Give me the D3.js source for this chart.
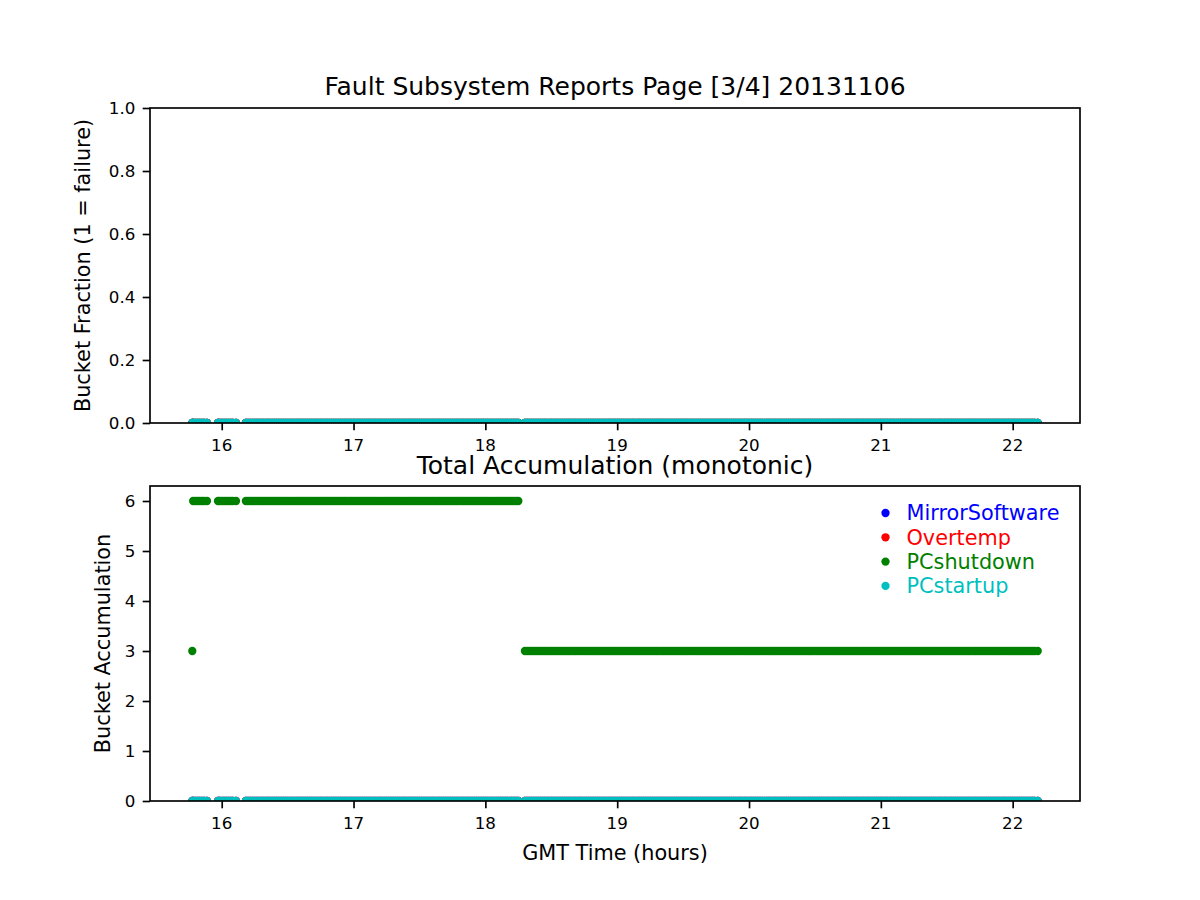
<!DOCTYPE html>
<html>
<head>
<meta charset="utf-8">
<script src="https://cdn.jsdelivr.net/npm/d3@7"></script>
<style>
  html, body { margin: 0; padding: 0; background: #ffffff; }
  svg { display: block; font-family: "DejaVu Sans", sans-serif; }
  text.ticklabel { font-size: 16.7px; }
</style>
</head>
<body>
<script>
// ---------------- DATA ----------------
// Sample times (minutes after 00:00 GMT)
const sampleMinutes = [
  946.6,
  947, 948, 949, 950, 951, 952, 953.3,
  958.3, 959, 960, 961, 962, 963, 964, 965, 966.5,
  971, 972, 973, 974, 975, 976, 977, 978, 979, 980,
  981, 982, 983, 984, 985, 986, 987, 988, 989, 990,
  991, 992, 993, 994, 995, 996, 997, 998, 999, 1000,
  1001, 1002, 1003, 1004, 1005, 1006, 1007, 1008, 1009, 1010,
  1011, 1012, 1013, 1014, 1015, 1016, 1017, 1018, 1019, 1020,
  1021, 1022, 1023, 1024, 1025, 1026, 1027, 1028, 1029, 1030,
  1031, 1032, 1033, 1034, 1035, 1036, 1037, 1038, 1039, 1040,
  1041, 1042, 1043, 1044, 1045, 1046, 1047, 1048, 1049, 1050,
  1051, 1052, 1053, 1054, 1055, 1056, 1057, 1058, 1059, 1060,
  1061, 1062, 1063, 1064, 1065, 1066, 1067, 1068, 1069, 1070,
  1071, 1072, 1073, 1074, 1075, 1076, 1077, 1078, 1079, 1080,
  1081, 1082, 1083, 1084, 1085, 1086, 1087, 1088, 1089, 1090,
  1091, 1092, 1093, 1094, 1095,
  1098, 1099, 1100, 1101, 1102, 1103, 1104, 1105, 1106, 1107,
  1108, 1109, 1110, 1111, 1112, 1113, 1114, 1115, 1116, 1117,
  1118, 1119, 1120, 1121, 1122, 1123, 1124, 1125, 1126, 1127,
  1128, 1129, 1130, 1131, 1132, 1133, 1134, 1135, 1136, 1137,
  1138, 1139, 1140, 1141, 1142, 1143, 1144, 1145, 1146, 1147,
  1148, 1149, 1150, 1151, 1152, 1153, 1154, 1155, 1156, 1157,
  1158, 1159, 1160, 1161, 1162, 1163, 1164, 1165, 1166, 1167,
  1168, 1169, 1170, 1171, 1172, 1173, 1174, 1175, 1176, 1177,
  1178, 1179, 1180, 1181, 1182, 1183, 1184, 1185, 1186, 1187,
  1188, 1189, 1190, 1191, 1192, 1193, 1194, 1195, 1196, 1197,
  1198, 1199, 1200, 1201, 1202, 1203, 1204, 1205, 1206, 1207,
  1208, 1209, 1210, 1211, 1212, 1213, 1214, 1215, 1216, 1217,
  1218, 1219, 1220, 1221, 1222, 1223, 1224, 1225, 1226, 1227,
  1228, 1229, 1230, 1231, 1232, 1233, 1234, 1235, 1236, 1237,
  1238, 1239, 1240, 1241, 1242, 1243, 1244, 1245, 1246, 1247,
  1248, 1249, 1250, 1251, 1252, 1253, 1254, 1255, 1256, 1257,
  1258, 1259, 1260, 1261, 1262, 1263, 1264, 1265, 1266, 1267,
  1268, 1269, 1270, 1271, 1272, 1273, 1274, 1275, 1276, 1277,
  1278, 1279, 1280, 1281, 1282, 1283, 1284, 1285, 1286, 1287,
  1288, 1289, 1290, 1291, 1292, 1293, 1294, 1295, 1296, 1297,
  1298, 1299, 1300, 1301, 1302, 1303, 1304, 1305, 1306, 1307,
  1308, 1309, 1310, 1311, 1312, 1313, 1314, 1315, 1316, 1317,
  1318, 1319, 1320, 1321, 1322, 1323, 1324, 1325, 1326, 1327,
  1328, 1329, 1330, 1331.4
];

// All-zero readings (376 samples)
const zeroReadings = [
  0,0,0,0,0, 0,0,0,0,0, 0,0,0,0,0, 0,0,0,0,0,
  0,0,0,0,0, 0,0,0,0,0, 0,0,0,0,0, 0,0,0,0,0,
  0,0,0,0,0, 0,0,0,0,0, 0,0,0,0,0, 0,0,0,0,0,
  0,0,0,0,0, 0,0,0,0,0, 0,0,0,0,0, 0,0,0,0,0,
  0,0,0,0,0, 0,0,0,0,0, 0,0,0,0,0, 0,0,0,0,0,
  0,0,0,0,0, 0,0,0,0,0, 0,0,0,0,0, 0,0,0,0,0,
  0,0,0,0,0, 0,0,0,0,0, 0,0,0,0,0, 0,0,0,0,0,
  0,0,0,0,0, 0,0,0,0,0, 0,0,0,0,0, 0,0,0,0,0,
  0,0,0,0,0, 0,0,0,0,0, 0,0,0,0,0, 0,0,0,0,0,
  0,0,0,0,0, 0,0,0,0,0, 0,0,0,0,0, 0,0,0,0,0,
  0,0,0,0,0, 0,0,0,0,0, 0,0,0,0,0, 0,0,0,0,0,
  0,0,0,0,0, 0,0,0,0,0, 0,0,0,0,0, 0,0,0,0,0,
  0,0,0,0,0, 0,0,0,0,0, 0,0,0,0,0, 0,0,0,0,0,
  0,0,0,0,0, 0,0,0,0,0, 0,0,0,0,0, 0,0,0,0,0,
  0,0,0,0,0, 0,0,0,0,0, 0,0,0,0,0, 0,0,0,0,0,
  0,0,0,0,0, 0,0,0,0,0, 0,0,0,0,0, 0,0,0,0,0,
  0,0,0,0,0, 0,0,0,0,0, 0,0,0,0,0, 0,0,0,0,0,
  0,0,0,0,0, 0,0,0,0,0, 0,0,0,0,0, 0,0,0,0,0,
  0,0,0,0,0, 0,0,0,0,0, 0,0,0,0,0, 0
];

// Bucket fraction (top panel)
const mirrorSoftwareFraction = zeroReadings;
const overtempFraction       = zeroReadings;
const pcShutdownFraction     = zeroReadings;
const pcStartupFraction      = zeroReadings;

// Bucket accumulation (bottom panel)
const mirrorSoftwareAccum = zeroReadings;
const overtempAccum       = zeroReadings;
const pcStartupAccum      = zeroReadings;
const pcShutdownAccum = [
  3,6,6,6,6, 6,6,6,6,6, 6,6,6,6,6, 6,6,6,6,6,
  6,6,6,6,6, 6,6,6,6,6, 6,6,6,6,6, 6,6,6,6,6,
  6,6,6,6,6, 6,6,6,6,6, 6,6,6,6,6, 6,6,6,6,6,
  6,6,6,6,6, 6,6,6,6,6, 6,6,6,6,6, 6,6,6,6,6,
  6,6,6,6,6, 6,6,6,6,6, 6,6,6,6,6, 6,6,6,6,6,
  6,6,6,6,6, 6,6,6,6,6, 6,6,6,6,6, 6,6,6,6,6,
  6,6,6,6,6, 6,6,6,6,6, 6,6,6,6,6, 6,6,6,6,6,
  6,6,3,3,3, 3,3,3,3,3, 3,3,3,3,3, 3,3,3,3,3,
  3,3,3,3,3, 3,3,3,3,3, 3,3,3,3,3, 3,3,3,3,3,
  3,3,3,3,3, 3,3,3,3,3, 3,3,3,3,3, 3,3,3,3,3,
  3,3,3,3,3, 3,3,3,3,3, 3,3,3,3,3, 3,3,3,3,3,
  3,3,3,3,3, 3,3,3,3,3, 3,3,3,3,3, 3,3,3,3,3,
  3,3,3,3,3, 3,3,3,3,3, 3,3,3,3,3, 3,3,3,3,3,
  3,3,3,3,3, 3,3,3,3,3, 3,3,3,3,3, 3,3,3,3,3,
  3,3,3,3,3, 3,3,3,3,3, 3,3,3,3,3, 3,3,3,3,3,
  3,3,3,3,3, 3,3,3,3,3, 3,3,3,3,3, 3,3,3,3,3,
  3,3,3,3,3, 3,3,3,3,3, 3,3,3,3,3, 3,3,3,3,3,
  3,3,3,3,3, 3,3,3,3,3, 3,3,3,3,3, 3,3,3,3,3,
  3,3,3,3,3, 3,3,3,3,3, 3,3,3,3,3, 3
];

const seriesNames  = ["MirrorSoftware", "Overtemp", "PCshutdown", "PCstartup"];
const seriesColors = ["#0000ff", "#ff0000", "#008000", "#00bfbf"];

const xTicks = [16, 17, 18, 19, 20, 21, 22];
const fractionTicks = [0, 0.2, 0.4, 0.6, 0.8, 1.0];
const accumTicks = [0, 1, 2, 3, 4, 5, 6];

const topTitle = "Fault Subsystem Reports Page [3/4] 20131106";
const bottomTitle = "Total Accumulation (monotonic)";
const topYLabel = "Bucket Fraction (1 = failure)";
const bottomYLabel = "Bucket Accumulation";
const xLabel = "GMT Time (hours)";

// ---------------- LAYOUT ----------------
const W = 1200, H = 900;
const axLeft = 150, axRight = 1080;
const tickLen = 7.3, tickPad = 7.3, lw = 1.67;
const dotR = 4.15;

const svg = d3.select("body").append("svg")
  .attr("width", W).attr("height", H)
  .attr("font-family", "DejaVu Sans, sans-serif");
svg.append("rect").attr("width", W).attr("height", H).attr("fill", "#fff");

const hours = sampleMinutes.map(m => m / 60);
const ext = d3.extent(hours);
const padX = (ext[1] - ext[0]) * 0.05;
const x = d3.scaleLinear().domain([ext[0] - padX, ext[1] + padX]).range([axLeft, axRight]);

const tickLabelNodes = [];

function drawPanel(cfg) {
  const { top, bottom, yDomain, yTicks, yFmt, series, title, titleBaseline, yLabel, yLabelX, id } = cfg;
  const y = d3.scaleLinear().domain(yDomain).range([bottom, top]);
  const g = svg.append("g");

  g.append("clipPath").attr("id", id)
    .append("rect").attr("x", axLeft).attr("y", top)
    .attr("width", axRight - axLeft).attr("height", bottom - top);

  const plot = g.append("g").attr("clip-path", `url(#${id})`);
  series.forEach((vals, si) => {
    const pts = vals.map((v, i) => ({ t: hours[i], v })).filter(d => d.t !== undefined);
    plot.append("g").attr("fill", seriesColors[si])
      .selectAll("circle")
      .data(pts)
      .join("circle")
      .attr("cx", d => x(d.t))
      .attr("cy", d => y(d.v))
      .attr("r", dotR);
  });

  const xAxis = d3.axisBottom(x).tickValues(xTicks).tickFormat("")
    .tickSizeInner(tickLen).tickSizeOuter(0);
  const gx = g.append("g").attr("transform", `translate(0,${bottom})`).call(xAxis);
  const yAxis = d3.axisLeft(y).tickValues(yTicks).tickFormat("")
    .tickSizeInner(tickLen).tickSizeOuter(0);
  const gy = g.append("g").attr("transform", `translate(${axLeft},0)`).call(yAxis);
  [gx, gy].forEach(a => {
    a.select(".domain").remove();
    a.selectAll(".tick line").attr("stroke", "#000").attr("stroke-width", lw);
    a.selectAll(".tick text").remove();
  });

  const xl = g.append("g").attr("font-size", 16.7).selectAll("text").data(xTicks).join("text")
    .attr("class", "ticklabel")
    .attr("x", d => x(d)).attr("y", bottom + 28)
    .attr("text-anchor", "middle")
    .attr("font-size", 16.7).style("font-size", "16.7px")
    .attr("fill", "#000").text(d3.format("d"));

  const yl = g.append("g").attr("font-size", 16.7).selectAll("text").data(yTicks).join("text")
    .attr("class", "ticklabel")
    .attr("x", axLeft - tickLen - tickPad).attr("y", d => y(d)).attr("dy", "0.36em")
    .attr("text-anchor", "end")
    .attr("font-size", 16.7).style("font-size", "16.7px")
    .attr("fill", "#000").text(yFmt);
  yl.each(function () { tickLabelNodes.push(this); });
  xl.each(function () { tickLabelNodes.push(this); });

  g.append("rect").attr("x", axLeft).attr("y", top)
    .attr("width", axRight - axLeft).attr("height", bottom - top)
    .attr("fill", "none").attr("stroke", "#000").attr("stroke-width", lw);

  g.append("text").attr("x", (axLeft + axRight) / 2).attr("y", titleBaseline)
    .attr("text-anchor", "middle").style("font-size", "25px").attr("fill", "#000")
    .text(title);

  g.append("text")
    .attr("transform", `translate(${yLabelX},${(top + bottom) / 2}) rotate(-90)`)
    .attr("text-anchor", "middle").style("font-size", "20.8px").attr("fill", "#000")
    .text(yLabel);
}

drawPanel({
  top: 108, bottom: 423, yDomain: [0, 1], yTicks: fractionTicks, yFmt: d3.format(".1f"),
  series: [mirrorSoftwareFraction, overtempFraction, pcShutdownFraction, pcStartupFraction],
  title: topTitle, titleBaseline: 95, yLabel: topYLabel, yLabelX: 90, id: "clipTop"
});

drawPanel({
  top: 486, bottom: 801, yDomain: [0, 6.3], yTicks: accumTicks, yFmt: d3.format("d"),
  series: [mirrorSoftwareAccum, overtempAccum, pcShutdownAccum, pcStartupAccum],
  title: bottomTitle, titleBaseline: 474, yLabel: bottomYLabel, yLabelX: 110, id: "clipBottom"
});

// resolve tick label layout, then add the remaining texts
tickLabelNodes.forEach(n => n.getBBox());

// legend (upper right of bottom panel, no frame)
const legend = svg.append("g");
seriesNames.forEach((name, i) => {
  const cy = 513 + i * 24.3;
  legend.append("circle").attr("cx", 885.5).attr("cy", cy).attr("r", dotR)
    .attr("fill", seriesColors[i]);
  legend.append("text").attr("x", 906.5).attr("y", cy).attr("dy", "0.36em")
    .style("font-size", "20.8px").attr("fill", seriesColors[i]).text(name);
});

svg.append("text").attr("x", (axLeft + axRight) / 2).attr("y", 860)
  .attr("text-anchor", "middle").style("font-size", "20.8px").attr("fill", "#000")
  .text(xLabel);
</script>
</body>
</html>
